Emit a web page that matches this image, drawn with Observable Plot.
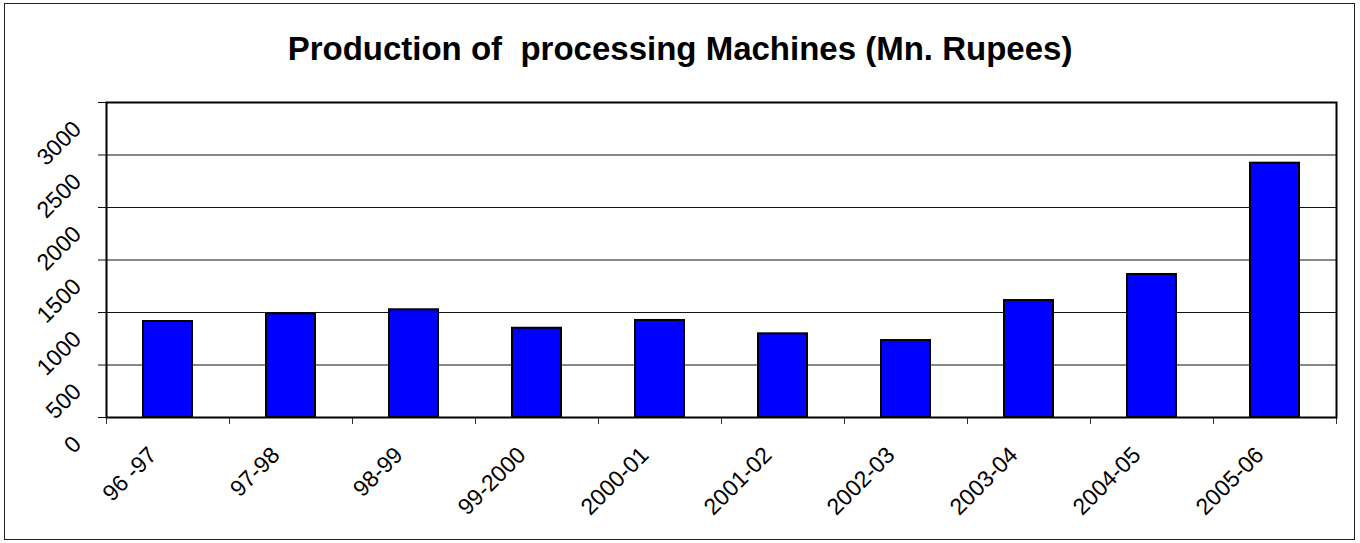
<!DOCTYPE html>
<html>
<head>
<meta charset="utf-8">
<script src="https://cdn.jsdelivr.net/npm/d3@7"></script>
<script src="https://cdn.jsdelivr.net/npm/@observablehq/plot@0.6"></script>
<style>
  html, body { margin: 0; padding: 0; background: #fff; }
  #wrap { position: relative; width: 1360px; height: 543px; overflow: hidden; font-family: "Liberation Sans", Arial, sans-serif; }
  #border { position: absolute; left: 4px; top: 3px; width: 1349px; height: 535px; border: 1px solid #222; }
  #title { position: absolute; left: 0; width: 1360px; top: 30px; text-align: center; font-weight: bold; font-size: 33px; color: #000; white-space: pre; }
  #chart { position: absolute; left: 0; top: 0; }
</style>
</head>
<body>
<div id="wrap">
  <div id="border"></div>
  <div id="chart"></div>
  <div id="title">Production of  processing Machines (Mn. Rupees)</div>
</div>
<script>
const periods = ["96 -97", "97-98", "98-99", "99-2000", "2000-01", "2001-02", "2002-03", "2003-04", "2004-05", "2005-06"];
const values = [914, 988, 1026, 850, 924, 797, 733, 1114, 1362, 2422];
const yTicks = [0, 500, 1000, 1500, 2000, 2500, 3000];

const data = periods.map((p, i) => ({period: p, value: values[i]}));

const W = 1360, H = 543;
const mL = 106, mR = 24, mT = 102, mB = 126;
const step = (W - mL - mR) / periods.length;

const plot = Plot.plot({
  width: W,
  height: H,
  marginLeft: mL,
  marginRight: mR,
  marginTop: mT,
  marginBottom: mB,
  style: {fontFamily: "'Liberation Sans', Arial, sans-serif", background: "transparent"},
  x: {domain: periods, type: "band", paddingInner: 0.6, paddingOuter: 0.3, axis: null},
  y: {domain: [0, 3000], axis: null},
  marks: [
    Plot.ruleY(yTicks, {y: d => d, stroke: "#111", strokeWidth: 1, insetLeft: -8}),
    Plot.barY(data, {x: "period", y: "value", fill: "#0000ff", stroke: "#000", strokeWidth: 2}),
    Plot.ruleX(periods, {x: d => d, dx: -step / 2, stroke: "#333", strokeWidth: 1, insetTop: H - mT - mB, insetBottom: -7}),
    Plot.ruleX(periods.slice(-1), {x: d => d, dx: step / 2, stroke: "#333", strokeWidth: 1, insetTop: H - mT - mB, insetBottom: -7}),
    Plot.frame({stroke: "#000", strokeWidth: 2}),
    Plot.text(yTicks, {y: d => d, frameAnchor: "left", text: d => String(d), rotate: -45, textAnchor: "end", lineAnchor: "bottom", dx: -24, dy: 28, fontSize: 23, fill: "#000"}),
    Plot.text(periods, {x: d => d, frameAnchor: "bottom", text: d => d, rotate: -45, textAnchor: "end", lineAnchor: "bottom", dx: -10, dy: 39, fontSize: 23, fill: "#000"})
  ]
});
document.getElementById("chart").appendChild(plot);
</script>
</body>
</html>
